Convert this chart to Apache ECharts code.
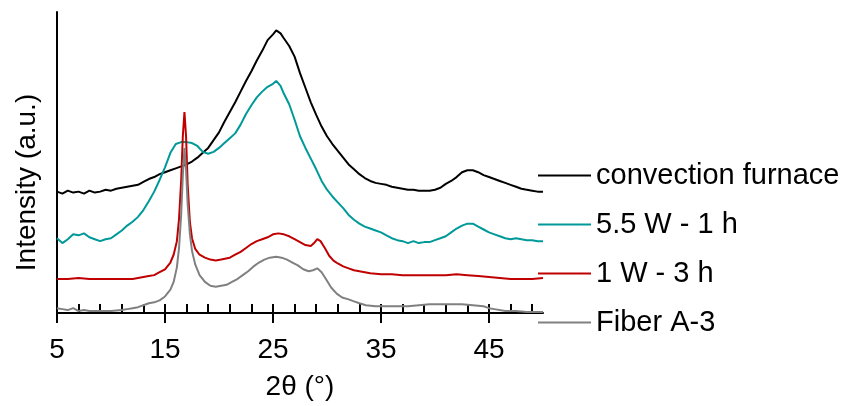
<!DOCTYPE html>
<html>
<head>
<meta charset="utf-8">
<script src="https://cdn.jsdelivr.net/npm/echarts@6/dist/echarts.min.js"></script>
<style>
  html, body { margin: 0; padding: 0; background: #fff; }
  #chart { width: 844px; height: 406px; }
</style>
</head>
<body>
<div id="chart"></div>
<script>
// XRD patterns, stacked with vertical offsets (intensity in arbitrary units)
const FONT = '"Liberation Sans", Arial, sans-serif';

const seriesNames = ['convection furnace', '5.5 W - 1 h', '1 W - 3 h', 'Fiber A-3'];
const seriesColors = ['#000000', '#009999', '#c00000', '#808080'];

const xTickLabels = [5, 15, 25, 35, 45];

// convection furnace
const furnaceAngle = [5, 5.5, 6, 6.5, 7, 7.5, 8, 8.5, 9, 9.5, 10, 10.5, 11, 11.5, 12, 12.5, 13, 13.5, 14, 14.5,
  15, 15.5, 16, 16.5, 17, 17.5, 18, 18.5, 19, 19.5, 20, 20.5, 21, 21.5, 22, 22.5, 23, 23.5, 24, 24.5,
  25, 25.3, 25.7, 26, 26.5, 27, 27.5, 28, 28.5, 29, 29.5, 30, 30.5, 31, 31.5, 32, 32.5, 33, 33.5, 34,
  34.5, 35, 35.5, 36, 36.5, 37, 37.5, 38, 38.5, 39, 39.5, 40, 40.5, 41, 41.5, 42, 42.5, 43, 43.5, 44,
  44.5, 45, 45.5, 46, 46.5, 47, 47.5, 48, 48.5, 49, 49.5, 50];
const furnaceIntensity = [125, 123, 126, 124, 125, 123, 126, 124, 125, 127, 126, 128, 129, 130, 131, 132, 135, 138, 140, 143,
  145, 147, 149, 151, 153, 156, 160, 165, 170, 178, 186, 197, 207, 217, 228, 239, 249, 260, 270, 281,
  287, 291, 288, 283, 275, 264, 247, 232, 217, 204, 192, 182, 174, 167, 160, 153, 148, 143, 139, 136,
  134, 133, 132, 130, 129, 128, 127, 127, 126, 126, 126, 127, 129, 133, 136, 140, 145, 147, 147, 145,
  142, 140, 138, 136, 134, 132, 130, 128, 127, 126, 125, 125];

// 5.5 W - 1 h
const w55Angle = [5, 5.5, 6, 6.5, 7, 7.5, 8, 8.5, 9, 9.5, 10, 10.5, 11, 11.5, 12, 12.5, 13, 13.5, 14, 14.5,
  15, 15.5, 16, 16.5, 17, 17.5, 18, 18.5, 19, 19.5, 20, 20.5, 21, 21.5, 22, 22.5, 23, 23.5, 24, 24.5,
  25, 25.3, 25.7, 26, 26.5, 27, 27.5, 28, 28.5, 29, 29.5, 30, 30.5, 31, 31.5, 32, 32.5, 33, 33.5, 34,
  34.5, 35, 35.5, 36, 36.5, 37, 37.5, 38, 38.5, 39, 39.5, 40, 40.5, 41, 41.5, 42, 42.5, 43, 43.5, 44,
  44.5, 45, 45.5, 46, 46.5, 47, 47.5, 48, 48.5, 49, 49.5, 50];
const w55Intensity = [77, 72, 76, 81, 80, 82, 78, 76, 74, 76, 77, 81, 85, 90, 94, 99, 106, 115, 125, 137,
  150, 165, 174, 176, 176, 175, 172, 166, 164, 166, 170, 175, 180, 185, 194, 205, 214, 222, 228, 233,
  236, 239, 234, 226, 215, 199, 182, 170, 159, 148, 136, 127, 120, 114, 108, 101, 96, 92, 89, 87,
  85, 83, 80, 77, 75, 74, 72, 74, 72, 73, 73, 75, 77, 79, 83, 87, 90, 92, 92, 89,
  86, 83, 81, 79, 77, 76, 77, 76, 75, 75, 74, 74];

// 1 W - 3 h
const w1Angle = [5, 6, 7, 8, 9, 10, 11, 12, 12.5, 13, 13.5, 14, 14.5, 15, 15.5, 15.8, 16.1, 16.3, 16.5, 16.65,
  16.8, 16.95, 17.1, 17.3, 17.5, 17.8, 18.2, 18.7, 19.2, 19.7, 20.2, 21, 21.5, 22, 22.5, 23, 23.5, 24, 24.5, 25,
  25.5, 26, 26.5, 27, 27.5, 28, 28.5, 28.8, 29.1, 29.4, 29.8, 30.2, 30.6, 31, 31.5, 32, 32.5, 33, 33.5, 34,
  35, 36, 37, 38, 39, 40, 41, 42, 43, 44, 45, 46, 47, 48, 49, 50];
const w1Intensity = [35, 35, 36, 35, 35, 35, 35, 35, 36, 37, 38, 39, 42, 45, 52, 60, 74, 97, 137, 182,
  207, 182, 132, 94, 77, 66, 60, 57, 55, 54, 55, 57, 60, 63, 67, 71, 74, 76, 78, 81,
  82, 81, 79, 76, 73, 70, 69, 72, 76, 74, 67, 59, 54, 51, 48, 46, 44, 43, 42, 41,
  40, 40, 39, 39, 39, 39, 39, 40, 39, 38, 37, 36, 35, 35, 35, 36];

// Fiber A-3
const fiberAngle = [5, 5.5, 6, 6.5, 7, 7.5, 8, 9, 10, 11, 11.5, 12, 12.5, 13, 13.5, 14, 14.5, 15, 15.5, 15.8,
  16.1, 16.3, 16.5, 16.65, 16.8, 16.95, 17.1, 17.3, 17.5, 17.8, 18.2, 18.7, 19.2, 19.7, 20.2, 20.7, 21.2, 21.7, 22.2, 22.7,
  23.2, 23.7, 24.2, 24.7, 25.3, 25.8, 26.3, 26.8, 27.3, 27.8, 28.3, 28.7, 29.1, 29.5, 29.9, 30.4, 30.9, 31.4, 32, 32.5,
  33, 33.6, 34.5, 35.5, 36.5, 37.5, 38.5, 39.5, 40.5, 41.5, 42.5, 43.5, 44.5, 45, 45.5, 46.5, 47.5, 48.5, 49.5, 50];
const fiberIntensity = [5, 4, 3, 5, 2, 3, 2, 2, 2, 3, 4, 5, 6, 8, 10, 11, 13, 17, 24, 32,
  47, 67, 102, 142, 170, 147, 112, 82, 64, 50, 39, 32, 28, 27, 28, 29, 32, 35, 39, 43,
  48, 52, 55, 57, 58, 57, 55, 52, 49, 45, 43, 44, 46, 42, 35, 26, 20, 16, 14, 12,
  10, 8, 7, 7, 7, 7, 8, 9, 9, 9, 9, 8, 7, 5, 4, 2, 2, 1, 1, 1];

const angleSets = [furnaceAngle, w55Angle, w1Angle, fiberAngle];
const intensitySets = [furnaceIntensity, w55Intensity, w1Intensity, fiberIntensity];

// minor tick positions every 2 degrees from 5 to 49
const minorTicks = [];
for (let v = 5; v < 50; v += 2) minorTicks.push(v);

const chart = echarts.init(document.getElementById('chart'), null, { renderer: 'canvas' });

const series = seriesNames.map((name, i) => ({
  name: name,
  type: 'line',
  xAxisIndex: 0,
  showSymbol: false,
  symbol: 'none',
  color: seriesColors[i],
  lineStyle: { width: 2, color: seriesColors[i] },
  data: angleSets[i].map((a, k) => [a, intensitySets[i][k]]),
  z: 2 + i
}));

chart.setOption({
  animation: false,
  backgroundColor: '#ffffff',
  textStyle: { fontFamily: FONT },
  grid: { left: 57, right: 301, top: 12, bottom: 84, containLabel: false },
  legend: {
    orient: 'vertical',
    left: 533,
    top: 156,
    padding: 5,
    itemWidth: 53,
    itemHeight: 2,
    itemGap: 20,
    icon: 'rect',
    selectedMode: false,
    data: seriesNames,
    textStyle: { fontFamily: FONT, fontSize: 29, color: '#000', lineHeight: 29 }
  },
  xAxis: [
    {
      type: 'value',
      min: 5,
      max: 50,
      position: 'bottom',
      name: '2θ (°)',
      nameLocation: 'middle',
      nameGap: 60,
      nameTextStyle: { fontFamily: FONT, fontSize: 28, color: '#000' },
      axisLine: { show: true, lineStyle: { color: '#000', width: 2 } },
      axisTick: { show: true, inside: false, length: 10, lineStyle: { color: '#000', width: 2 }, customValues: xTickLabels },
      axisLabel: { show: true, margin: 23, fontFamily: FONT, fontSize: 28, color: '#000', customValues: xTickLabels },
      splitLine: { show: false }
    },
    {
      type: 'value',
      min: 5,
      max: 50,
      position: 'bottom',
      offset: 0,
      axisLine: { show: false },
      axisTick: { show: true, inside: true, length: 9, lineStyle: { color: '#000', width: 2 }, customValues: minorTicks },
      axisLabel: { show: false },
      splitLine: { show: false }
    }
  ],
  yAxis: {
    type: 'value',
    min: 0,
    max: 310,
    name: 'Intensity (a.u.)',
    nameLocation: 'middle',
    nameGap: 16,
    nameTextStyle: { fontFamily: FONT, fontSize: 28, color: '#000', padding: [0, 40, 0, 0] },
    axisLine: { show: true, lineStyle: { color: '#000', width: 2 } },
    axisTick: { show: false },
    axisLabel: { show: false },
    splitLine: { show: false }
  },
  series: series
});
</script>
</body>
</html>
